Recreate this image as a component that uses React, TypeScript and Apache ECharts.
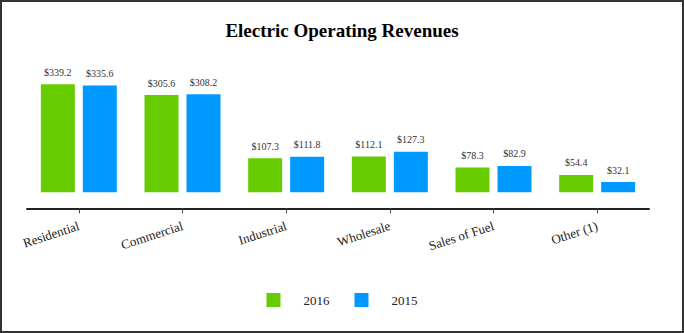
import React, { useEffect, useRef } from "react";
import * as echarts from "echarts";

const categories = ["Residential", "Commercial", "Industrial", "Wholesale", "Sales of Fuel", "Other (1)"];
const values2016 = [339.2, 305.6, 107.3, 112.1, 78.3, 54.4];
const values2015 = [335.6, 308.2, 111.8, 127.3, 82.9, 32.1];
const seriesNames = ["2016", "2015"];

const FONT = '"Liberation Serif", "Times New Roman", serif';

export default function App() {
  const ref = useRef<HTMLDivElement>(null);
  useEffect(() => {
    document.body.style.margin = "0";
    if (!ref.current) return;
    const chart = echarts.init(ref.current, null, { renderer: "svg" });
    const label = {
      show: true,
      position: "top",
      distance: 7,
      fontFamily: FONT,
      fontSize: 10,
      color: "#333",
      formatter: (p: any) => "$" + Number(p.value).toFixed(1),
    };
    chart.setOption({
      animation: false,
      backgroundColor: "#fff",
      title: {
        text: "Electric Operating Revenues",
        left: "center",
        top: 16,
        textStyle: { fontFamily: FONT, fontSize: 19, fontWeight: "bold", color: "#000" },
      },
      legend: {
        data: seriesNames,
        left: "center",
        top: 288,
        itemWidth: 14,
        itemHeight: 14,
        itemGap: 25,
        icon: "rect",
        textStyle: { fontFamily: FONT, fontSize: 13, color: "#222", padding: [0, 0, 0, 18] },
      },
      grid: { left: 27, right: 35, top: 65, bottom: 140.7, containLabel: false },
      xAxis: {
        type: "category",
        data: categories,
        offset: 16,
        axisLine: { onZero: false, lineStyle: { color: "#222", width: 2 } },
        axisTick: { show: true, length: 5, alignWithLabel: true, lineStyle: { color: "#444", width: 1 } },
        axisLabel: {
          rotate: 18,
          margin: 17,
          interval: 0,
          fontFamily: FONT,
          fontSize: 13,
          color: "#222",
        },
      },
      yAxis: {
        type: "value",
        min: 0,
        max: 400,
        show: false,
        splitLine: { show: false },
      },
      series: [
        {
          name: seriesNames[0],
          type: "bar",
          data: values2016,
          barWidth: 34,
          barGap: "23.5%",
          itemStyle: { color: "#66cc00" },
          label,
        },
        {
          name: seriesNames[1],
          type: "bar",
          data: values2015,
          barWidth: 34,
          itemStyle: { color: "#0099ff" },
          label,
        },
      ],
      graphic: [
        {
          type: "rect",
          shape: { x: 1, y: 1, width: 682, height: 331 },
          style: { fill: "none", stroke: "#333", lineWidth: 2 },
          silent: true,
        },
      ],
    });
    return () => chart.dispose();
  }, []);
  return <div ref={ref} style={{ position: "absolute", left: 0, top: 0, width: 684, height: 333 }} />;
}
